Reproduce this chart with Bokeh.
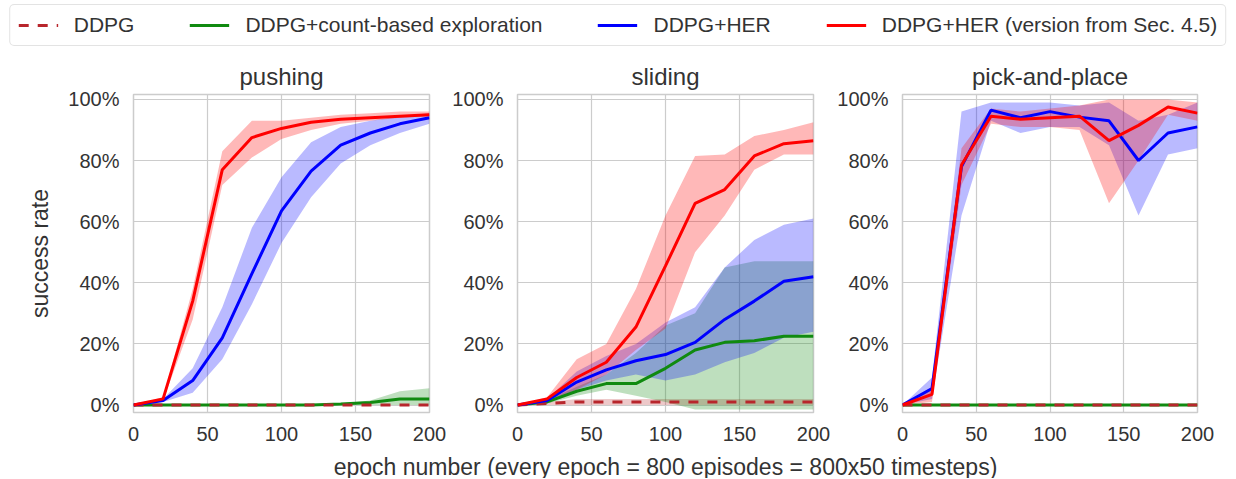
from bokeh.plotting import figure
from bokeh.models import Range1d, Legend, LegendItem, NumeralTickFormatter, FixedTicker
from bokeh.layouts import column, row
from bokeh.core.properties import value
from bokeh.embed import file_html
from bokeh.resources import INLINE

# ---------------- data (success rate in %) ----------------
epochs = [0, 20, 40, 60, 80, 100, 120, 140, 160, 180, 200]

series_names = ["DDPG", "DDPG+count-based exploration", "DDPG+HER",
                "DDPG+HER (version from Sec. 4.5)"]
panel_titles = ["pushing", "sliding", "pick-and-place"]
x_ticks = [0, 50, 100, 150, 200]
y_ticks = [0, 20, 40, 60, 80, 100]
x_label = "epoch number (every epoch = 800 episodes = 800x50 timesteps)"
y_label = "success rate"

# pushing
push_ddpg = [0, 0, 0, 0, 0, 0, 0, 0, 0, 0, 0]
push_ddpg_lo = [0, 0, 0, 0, 0, 0, 0, 0, 0, 0, 0]
push_ddpg_hi = [0, 0, 0, 0, 0, 0, 0, 0, 0, 0, 0]
push_count = [0, 0, 0, 0, 0, 0, 0, 0.3, 0.8, 2, 2]
push_count_lo = [0, 0, 0, 0, 0, 0, 0, 0, 0, 0, 0]
push_count_hi = [0, 0, 0, 0, 0, 0, 0, 0.5, 1.5, 4.5, 5.5]
push_her = [0, 1.5, 8, 22, 43, 63.5, 76.5, 85, 89, 92, 94]
push_her_lo = [0, 1, 4, 15, 33, 53, 68, 79, 85, 89, 92]
push_her_hi = [0, 2, 12, 32, 58, 74.5, 86, 91, 93, 94.5, 95.5]
push_her45 = [0, 2, 34, 77, 87.5, 90.5, 92.5, 93.5, 94, 94.5, 95]
push_her45_lo = [0, 1.5, 28, 72, 81, 87, 90, 92, 93, 94, 94.5]
push_her45_hi = [0, 2.5, 38, 83, 93, 93, 94, 95, 95.5, 96, 96]

# sliding
slide_ddpg = [0, 0.5, 1, 1, 1, 1, 1, 1, 1, 1, 1]
slide_ddpg_lo = [0, 0, 0, 0, 0, 0, 0, 0, 0, 0, 0]
slide_ddpg_hi = [0, 1, 2, 2, 2, 2, 2, 2, 2, 2, 2]
slide_count = [0, 1, 4.5, 7, 7, 12, 18, 20.5, 21, 22.5, 22.5]
slide_count_lo = [0, 0.5, 3, 5, 3, 1, -1.5, -1.5, -1.5, -1.5, -1.5]
slide_count_hi = [0, 1.5, 6, 10, 17, 26, 30, 45, 47, 47, 47]
slide_her = [0, 1.5, 7.5, 11.5, 14.5, 16.5, 20.5, 28, 34, 40.5, 42]
slide_her_lo = [0, 1, 5, 8, 10, 8, 10, 14, 17, 22, 24]
slide_her_hi = [0, 2, 11, 16, 20, 27, 32, 45, 54, 59, 61]
slide_her45 = [0, 2, 9, 14, 25.5, 45.5, 66, 70.5, 81.5, 85.5, 86.5]
slide_her45_lo = [0, 1.5, 5, 10, 18, 25, 50, 62, 77, 82, 82]
slide_her45_hi = [0, 2.5, 15, 20, 38, 62, 81.5, 82, 88, 90, 92.5]

# pick-and-place
pick_ddpg = [0, 0, 0, 0, 0, 0, 0, 0, 0, 0, 0]
pick_ddpg_lo = [0, 0, 0, 0, 0, 0, 0, 0, 0, 0, 0]
pick_ddpg_hi = [0, 0, 0, 0, 0, 0, 0, 0, 0, 0, 0]
pick_count = [0, 0, 0, 0, 0, 0, 0, 0, 0, 0, 0]
pick_count_lo = [0, 0, 0, 0, 0, 0, 0, 0, 0, 0, 0]
pick_count_hi = [0, 0, 0, 0, 0, 0, 0, 0, 0, 0, 0]
pick_her = [0, 5.4, 78, 96.5, 94, 96, 94.2, 93, 80, 89, 91]
pick_her_lo = [0, 2, 62, 93, 89, 91, 91, 85, 62, 82, 84]
pick_her_hi = [0, 9, 96, 99, 99, 99, 98, 99, 93, 95, 99]
pick_her45 = [0, 3.5, 78.5, 94.5, 93.5, 94, 94.5, 86.5, 91.5, 97.5, 95.5]
pick_her45_lo = [0, 1, 72, 92, 91, 91, 90, 66, 80, 95, 93]
pick_her45_hi = [0, 6, 84, 97, 96, 97, 98, 100, 100, 100, 99]

panels = [
    [(push_ddpg, push_ddpg_lo, push_ddpg_hi), (push_count, push_count_lo, push_count_hi),
     (push_her, push_her_lo, push_her_hi), (push_her45, push_her45_lo, push_her45_hi)],
    [(slide_ddpg, slide_ddpg_lo, slide_ddpg_hi), (slide_count, slide_count_lo, slide_count_hi),
     (slide_her, slide_her_lo, slide_her_hi), (slide_her45, slide_her45_lo, slide_her45_hi)],
    [(pick_ddpg, pick_ddpg_lo, pick_ddpg_hi), (pick_count, pick_count_lo, pick_count_hi),
     (pick_her, pick_her_lo, pick_her_hi), (pick_her45, pick_her45_lo, pick_her45_hi)],
]

# ---------------- styles ----------------
FONT = "Liberation Sans"
TEXT = "#333333"
GRID = "#cccccc"
colors = ["#b8262c", "#108a10", "#0000ff", "#ff0000"]
dashes = ["10 9", "solid", "solid", "solid"]
band_alpha = [0.25, 0.27, 0.27, 0.28]

def pct(v):
    return [a / 100.0 for a in v]

# figure geometry: (width, border_left, border_right)
geom = [(447, 133, 18), (385, 70, 19), (403, 70, 38)]
LEG_H = 50
B_TOP = 44
FRAME_H = 318
B_BOT = 38
ROW_H = B_TOP + FRAME_H + B_BOT
XL_H = 28
TOTAL_W = sum(g[0] for g in geom)

figs = []
for i, (title, data) in enumerate(zip(panel_titles, panels)):
    w, bl, br = geom[i]
    p = figure(width=w, height=ROW_H, output_backend="svg", toolbar_location=None,
               x_range=Range1d(0, 200), y_range=Range1d(-0.0245, 1.016),
               min_border_left=bl, min_border_right=br,
               min_border_top=B_TOP, min_border_bottom=B_BOT)
    p.title.text = title
    p.title.align = "center"
    p.title.text_font = FONT
    p.title.text_font_size = "24px"
    p.title.text_font_style = "normal"
    p.title.text_color = TEXT
    p.title.standoff = 10

    p.outline_line_color = GRID
    p.outline_line_width = 1.5
    p.background_fill_color = "white"
    p.border_fill_color = "white"
    for g in (p.xgrid, p.ygrid):
        g.grid_line_color = GRID
        g.grid_line_width = 1.2

    p.xaxis.ticker = FixedTicker(ticks=x_ticks)
    p.yaxis.ticker = FixedTicker(ticks=[t / 100.0 for t in y_ticks])
    p.yaxis.formatter = NumeralTickFormatter(format="0%")
    for ax in (p.xaxis, p.yaxis):
        ax.axis_line_color = None
        ax.major_tick_line_color = None
        ax.minor_tick_line_color = None
        ax.major_tick_out = 0
        ax.major_tick_in = 0
        ax.major_label_text_font = FONT
        ax.major_label_text_font_size = "20px"
        ax.major_label_text_color = TEXT
        ax.axis_label_text_font = FONT
        ax.axis_label_text_font_size = "23px"
        ax.axis_label_text_font_style = "normal"
        ax.axis_label_text_color = TEXT
    p.xaxis.major_label_standoff = 14
    p.yaxis.major_label_standoff = 14
    if i == 0:
        p.yaxis.axis_label = y_label
        p.yaxis.axis_label_standoff = 12

    # bands
    for k, (m, lo, hi) in enumerate(data):
        p.varea(x=epochs, y1=pct(lo), y2=pct(hi), fill_color=colors[k],
                fill_alpha=band_alpha[k])
    # lines: count-based first, then DDPG dashed over it, then HER variants
    for k in [1, 0, 2, 3]:
        m = data[k][0]
        p.line(x=epochs, y=pct(m), line_color=colors[k], line_width=3,
               line_dash=dashes[k])
    figs.append(p)

# ---------------- legend strip ----------------
lg = figure(width=TOTAL_W, height=LEG_H, output_backend="svg", toolbar_location=None,
            x_range=Range1d(0, 1), y_range=Range1d(0, 1),
            min_border_left=0, min_border_right=0,
            min_border_top=0, min_border_bottom=0)
lg.axis.visible = False
lg.grid.visible = False
lg.outline_line_color = None
items = []
for k, name in enumerate(series_names):
    # renderer kept outside the visible range: only its legend glyph shows
    r = lg.line(x=[-5, -4], y=[-5, -4], line_color=colors[k], line_width=3,
                line_dash=dashes[k])
    items.append(LegendItem(label=name, renderers=[r]))
legend = Legend(items=items, orientation="horizontal", location="center",
                label_text_font=FONT, label_text_font_size="21px",
                label_text_color=TEXT, glyph_width=40, glyph_height=20,
                label_standoff=16, spacing=55, padding=8, margin=0,
                border_line_color="#c8c8c8", border_line_width=1.5,
                background_fill_color="white", background_fill_alpha=1.0)
if "border_radius" in Legend.properties():
    legend.border_radius = 5
lg.add_layout(legend, "center")

# ---------------- shared x-axis label strip ----------------
xl = figure(width=TOTAL_W, height=XL_H, output_backend="svg", toolbar_location=None,
            x_range=Range1d(0, TOTAL_W), y_range=Range1d(0, XL_H),
            min_border_left=0, min_border_right=0,
            min_border_top=0, min_border_bottom=0)
xl.axis.visible = False
xl.grid.visible = False
xl.outline_line_color = None
mid_x = geom[0][0] + geom[1][1] + (geom[1][0] - geom[1][1] - geom[1][2]) / 2.0
xl.text(x=[mid_x], y=[XL_H - 16], text=[x_label], text_font=value(FONT),
        text_font_size="23px", text_color=TEXT, text_align="center",
        text_baseline="middle")

layout = column(lg, row(*figs, spacing=0), xl, spacing=0)
open("out.html", "w").write(file_html(layout, INLINE))
